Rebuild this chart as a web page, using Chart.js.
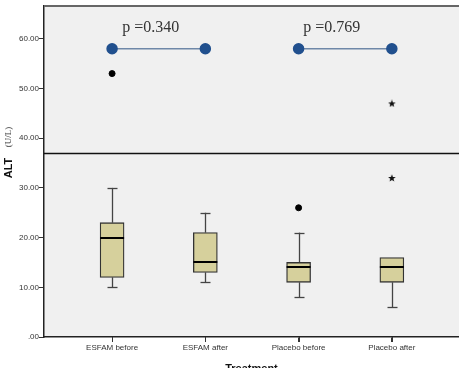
<!DOCTYPE html>
<html lang="en">
<head>
<meta charset="UTF-8">
<title>ALT by treatment</title>
<script src="https://cdn.jsdelivr.net/npm/chart.js@4.4.0/dist/chart.umd.min.js"></script>
<style>
    body { margin: 0; background: #fff; }
    #wrap { width: 459px; height: 368px; position: relative; }
</style>
</head>
<body>
<div id="wrap"><canvas id="altChart"></canvas></div>
<script>
    // box plot summary per group
    const groups = ['ESFAM before', 'ESFAM after', 'Placebo before', 'Placebo after'];
    const whiskerLow = [10, 11, 8, 6];
    const q1 = [12, 13, 11, 11];
    const medians = [20, 15, 14, 14];
    const q3 = [23, 21, 15, 16];
    const whiskerHigh = [30, 25, 21, 16];

    // outliers (circles) and extremes (stars), x = group number
    const outlierX = [1, 3];
    const outlierY = [53, 26];
    const extremeX = [4, 4];
    const extremeY = [47, 32];

    // p-value comparison lines
    const pairs = [[1, 2], [3, 4]];
    const pairLevel = 58;
    const pLabels = ['p =0.340', 'p =0.769'];
    const pLabelX = [1.11, 3.05];
    const pLabelLevel = 61.4;

    const breakValue = 37;
    const yTicks = [0, 10, 20, 30, 40, 50, 60];

    const sans = "'Liberation Sans', Arial, sans-serif";
    const serif = "'Liberation Serif', 'Times New Roman', serif";

    // small filled star for extreme values
    const star = document.createElement('canvas');
    star.width = 8; star.height = 8;
    (function () {
        const c = star.getContext('2d');
        c.fillStyle = '#111';
        c.beginPath();
        for (let i = 0; i < 10; i++) {
            const r = i % 2 === 0 ? 4 : 1.7;
            const a = -Math.PI / 2 + i * Math.PI / 5;
            const px = 4 + r * Math.cos(a), py = 4.3 + r * Math.sin(a);
            if (i === 0) c.moveTo(px, py); else c.lineTo(px, py);
        }
        c.closePath();
        c.fill();
    })();

    const boxPlugin = {
        id: 'boxExtras',
        beforeDraw(chart) {
            const { ctx, chartArea: a } = chart;
            ctx.save();
            ctx.fillStyle = '#f0f0f0';
            ctx.fillRect(a.left, a.top, a.right - a.left, a.bottom - a.top);
            ctx.restore();
        },
        beforeDatasetsDraw(chart) {
            const { ctx, scales: { x, y } } = chart;
            ctx.save();
            ctx.strokeStyle = '#444';
            ctx.lineWidth = 1.3;
            groups.forEach((g, i) => {
                const px = Math.round(x.getPixelForValue(i + 1)) + 0.5;
                const seg = (from, to) => {
                    if (from === to) return;
                    ctx.beginPath();
                    ctx.moveTo(px, y.getPixelForValue(from));
                    ctx.lineTo(px, y.getPixelForValue(to));
                    ctx.stroke();
                    const cy = Math.round(y.getPixelForValue(to)) + 0.5;
                    ctx.beginPath();
                    ctx.moveTo(px - 5, cy);
                    ctx.lineTo(px + 5, cy);
                    ctx.stroke();
                };
                seg(q1[i], whiskerLow[i]);
                seg(q3[i], whiskerHigh[i]);
            });
            ctx.restore();
        },
        afterDatasetsDraw(chart) {
            const { ctx, chartArea: a, scales: { x, y } } = chart;
            ctx.save();
            // medians
            ctx.strokeStyle = '#000';
            ctx.lineWidth = 2;
            groups.forEach((g, i) => {
                const px = x.getPixelForValue(i + 1);
                const py = Math.round(y.getPixelForValue(medians[i]));
                ctx.beginPath();
                ctx.moveTo(px - 12, py);
                ctx.lineTo(px + 12, py);
                ctx.stroke();
            });
            // category tick marks
            ctx.strokeStyle = '#333';
            ctx.lineWidth = 1;
            groups.forEach((g, i) => {
                const px = Math.round(x.getPixelForValue(i + 1)) + 0.5;
                ctx.beginPath();
                ctx.moveTo(px, a.bottom);
                ctx.lineTo(px, a.bottom + 5);
                ctx.stroke();
            });
            // break line and top frame
            ctx.lineWidth = 1.3;
            ctx.strokeStyle = '#111';
            const by = Math.round(y.getPixelForValue(breakValue)) + 0.5;
            ctx.beginPath();
            ctx.moveTo(a.left, by);
            ctx.lineTo(a.right, by);
            ctx.stroke();
            ctx.strokeStyle = '#666';
            ctx.lineWidth = 2;
            ctx.beginPath();
            ctx.moveTo(a.left, a.top);
            ctx.lineTo(a.right, a.top);
            ctx.stroke();
            // p values
            ctx.fillStyle = '#333';
            ctx.font = '16px ' + serif;
            ctx.textAlign = 'left';
            ctx.textBaseline = 'alphabetic';
            pLabels.forEach((t, i) => {
                ctx.fillText(t, x.getPixelForValue(pLabelX[i]), y.getPixelForValue(pLabelLevel));
            });
            // axis titles
            ctx.fillStyle = '#111';
            ctx.font = 'bold 11px ' + sans;
            ctx.textAlign = 'center';
            ctx.fillText('Treatment', (a.left + a.right) / 2, 372);
            ctx.translate(12, 168);
            ctx.rotate(-Math.PI / 2);
            ctx.fillText('ALT', 0, 0);
            ctx.font = '9px ' + serif;
            ctx.fillStyle = '#333';
            ctx.fillText('(U/L)', 31, -1);
            ctx.restore();
        }
    };

    const pairDatasets = pairs.map(p => ({
        type: 'line',
        data: p.map(v => ({ x: v, y: pairLevel })),
        borderColor: '#6f88a8',
        borderWidth: 1.5,
        pointBackgroundColor: '#21508e',
        pointBorderColor: '#21508e',
        pointRadius: 5,
        order: 0
    }));

    new Chart(document.getElementById('altChart'), {
        type: 'bar',
        data: {
            datasets: [
                {
                    type: 'bar',
                    data: groups.map((g, i) => ({ x: i + 1, y: [q1[i], q3[i]] })),
                    backgroundColor: '#d6d09c',
                    borderColor: '#333',
                    borderWidth: 1.3,
                    borderSkipped: false,
                    barThickness: 24,
                    grouped: false,
                    order: 2
                },
                {
                    type: 'scatter',
                    data: outlierX.map((v, i) => ({ x: v, y: outlierY[i] })),
                    pointBackgroundColor: '#000',
                    pointBorderColor: '#000',
                    pointRadius: 3,
                    order: 1
                },
                {
                    type: 'scatter',
                    data: extremeX.map((v, i) => ({ x: v, y: extremeY[i] })),
                    pointStyle: star,
                    order: 1
                },
                ...pairDatasets
            ]
        },
        options: {
            responsive: true,
            maintainAspectRatio: false,
            animation: false,
            layout: { autoPadding: false, padding: { top: 6, right: 0, left: 0, bottom: 0 } },
            plugins: { legend: { display: false }, tooltip: { enabled: false } },
            scales: {
                x: {
                    type: 'linear',
                    min: 0.27,
                    max: 4.72,
                    offset: false,
                    afterBuildTicks: s => { s.ticks = groups.map((g, i) => ({ value: i + 1 })); },
                    afterFit: s => { s.height = 31; s.paddingRight = 0; s.paddingLeft = 0; },
                    ticks: {
                        callback: v => groups[v - 1],
                        font: { family: sans, size: 8 },
                        color: '#333',
                        padding: 1,
                        maxRotation: 0,
                        autoSkip: false
                    },
                    grid: { offset: false, drawOnChartArea: false, drawTicks: true, tickLength: 5, color: '#333' },
                    border: { display: true, color: '#222', width: 1.5 }
                },
                y: {
                    type: 'linear',
                    min: 0,
                    max: 66.6,
                    afterBuildTicks: s => { s.ticks = yTicks.map(v => ({ value: v })); },
                    afterFit: s => { s.width = 44; },
                    ticks: {
                        callback: v => v === 0 ? '.00' : v.toFixed(2),
                        font: { family: sans, size: 8 },
                        color: '#333',
                        padding: 0
                    },
                    grid: { drawOnChartArea: false, drawTicks: true, tickLength: 5, color: '#333' },
                    border: { display: true, color: '#222', width: 1.5 }
                }
            }
        },
        plugins: [boxPlugin]
    });
</script>
</body>
</html>
